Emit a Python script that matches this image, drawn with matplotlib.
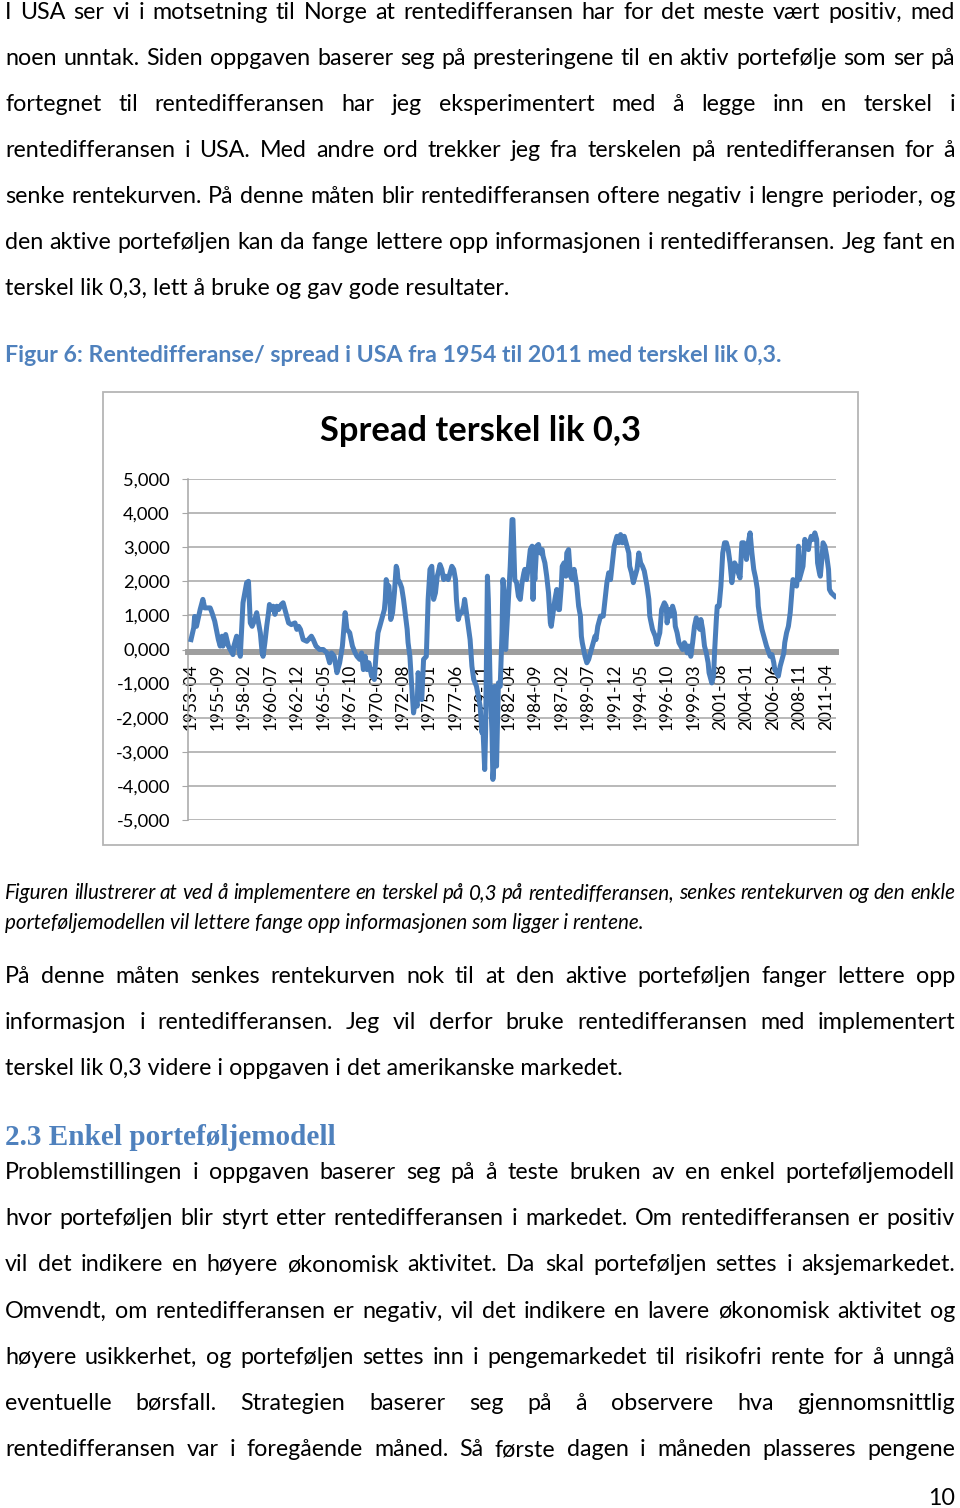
import matplotlib
matplotlib.use("Agg")
import matplotlib.pyplot as plt
from matplotlib.patches import Rectangle

# ---- data ----
dates = [
    "1953-04", "1953-07", "1953-08", "1953-10", "1954-02", "1954-05", "1954-07", "1955-01", "1955-03", "1955-06",
    "1955-10", "1955-12", "1956-02", "1956-03", "1956-06", "1956-09", "1956-11", "1957-02", "1957-03", "1957-06",
    "1957-08", "1957-10", "1958-01", "1958-05", "1958-07", "1958-09", "1958-11", "1959-02", "1959-04", "1959-06",
    "1959-08", "1959-10", "1959-11", "1960-01", "1960-03", "1960-05", "1960-06", "1960-08", "1960-10", "1960-12",
    "1961-02", "1961-04", "1961-07", "1961-09", "1961-11", "1962-03", "1962-06", "1962-10", "1962-12", "1963-02",
    "1963-04", "1963-07", "1963-11", "1964-04", "1964-06", "1964-09", "1965-01", "1965-05", "1965-09", "1965-12",
    "1966-02", "1966-05", "1966-08", "1966-11", "1967-02", "1967-05", "1967-07", "1967-10", "1968-01", "1968-04",
    "1968-06", "1968-09", "1968-11", "1969-01", "1969-03", "1969-05", "1969-07", "1969-10", "1969-11", "1970-01",
    "1970-03", "1970-05", "1970-07", "1970-10", "1970-12", "1971-01", "1971-02", "1971-03", "1971-05", "1971-06",
    "1971-07", "1971-09", "1971-11", "1972-01", "1972-02", "1972-03", "1972-05", "1972-07", "1972-09", "1973-01",
    "1973-02", "1973-04", "1973-06", "1973-08", "1973-10", "1973-12", "1974-01", "1974-03", "1974-05", "1974-07",
    "1974-10", "1974-12", "1975-02", "1975-04", "1975-06", "1975-08", "1975-10", "1975-11", "1976-01", "1976-03",
    "1976-05", "1976-07", "1976-10", "1977-02", "1977-04", "1977-06", "1977-07", "1977-09", "1977-11", "1978-01",
    "1978-03", "1978-04", "1978-06", "1978-08", "1978-10", "1978-12", "1979-02", "1979-05", "1979-09", "1979-11",
    "1979-12", "1980-02", "1980-03", "1980-05", "1980-06", "1980-08", "1980-10", "1980-11", "1980-12", "1981-01",
    "1981-03", "1981-05", "1981-07", "1981-09", "1981-10", "1981-12", "1982-01", "1982-03", "1982-04", "1982-06",
    "1982-08", "1982-09", "1982-11", "1983-01", "1983-03", "1983-05", "1983-07", "1983-09", "1983-10", "1983-12",
    "1984-02", "1984-04", "1984-06", "1984-07", "1984-08", "1984-09", "1984-11", "1985-01", "1985-03", "1985-05",
    "1985-06", "1985-08", "1985-10", "1985-12", "1986-02", "1986-03", "1986-05", "1986-07", "1986-09", "1986-11",
    "1986-12", "1987-02", "1987-03", "1987-05", "1987-07", "1987-08", "1987-10", "1987-12", "1988-02", "1988-04",
    "1988-07", "1988-09", "1988-11", "1988-12", "1989-01", "1989-04", "1989-06", "1989-08", "1989-10", "1989-12",
    "1990-03", "1990-04", "1990-06", "1990-09", "1990-12", "1991-02", "1991-04", "1991-06", "1991-08", "1991-10",
    "1991-12", "1992-03", "1992-05", "1992-07", "1992-09", "1992-11", "1993-01", "1993-04", "1993-05", "1993-07",
    "1993-09", "1993-11", "1994-01", "1994-03", "1994-05", "1994-07", "1994-09", "1994-12", "1995-02", "1995-03",
    "1995-06", "1995-09", "1995-11", "1995-12", "1996-02", "1996-04", "1996-07", "1996-09", "1996-10", "1996-12",
    "1997-02", "1997-04", "1997-06", "1997-07", "1997-09", "1997-11", "1998-01", "1998-03", "1998-05", "1998-07",
    "1998-08", "1998-10", "1998-12", "1999-02", "1999-04", "1999-06", "1999-08", "1999-10", "1999-11", "2000-01",
    "2000-03", "2000-05", "2000-07", "2000-08", "2000-11", "2001-01", "2001-02", "2001-04", "2001-05", "2001-07",
    "2001-09", "2001-11", "2002-01", "2002-03", "2002-05", "2002-07", "2002-09", "2002-11", "2002-12", "2003-02",
    "2003-04", "2003-06", "2003-08", "2003-10", "2003-12", "2004-01", "2004-03", "2004-05", "2004-07", "2004-09",
    "2004-11", "2005-01", "2005-02", "2005-04", "2005-06", "2005-08", "2005-10", "2005-11", "2006-01", "2006-03",
    "2006-05", "2006-07", "2006-08", "2006-10", "2006-12", "2007-02", "2007-04", "2007-06", "2007-07", "2007-09",
    "2007-11", "2008-01", "2008-03", "2008-04", "2008-06", "2008-08", "2008-09", "2008-10", "2008-11", "2009-01",
    "2009-03", "2009-05", "2009-07", "2009-09", "2009-10", "2009-12", "2010-02", "2010-04", "2010-06", "2010-07",
    "2010-09", "2010-10", "2010-12", "2011-01", "2011-03", "2011-05", "2011-07", "2011-08", "2011-10", "2011-12", "2012-02",
]
spread = [
    0.29, 0.64, 0.97, 0.68, 1.17, 1.47, 1.22, 1.22, 1.08, 0.83,
    0.29, 0.10, 0.39, 0.10, 0.44, 0.10, 0.00, -0.15, 0.10, 0.39,
    0.10, -0.20, 1.37, 1.96, 2.00, 0.78, 0.68, 0.88, 1.08, 0.78,
    0.49, -0.10, -0.20, 0.20, 0.68, 1.08, 1.32, 1.17, 1.27, 1.03,
    1.27, 1.17, 1.32, 1.37, 1.17, 0.78, 0.73, 0.78, 0.59, 0.68,
    0.59, 0.29, 0.24, 0.39, 0.29, 0.10, 0.00, 0.00, -0.10, -0.39,
    -0.10, -0.20, -0.68, -0.39, 0.10, 1.08, 0.59, 0.49, 0.10, -0.10,
    -0.20, -0.29, -0.10, -0.59, -0.20, -0.59, -0.39, -0.78, -0.59, -0.88,
    -0.10, 0.49, 0.68, 0.98, 1.17, 1.47, 2.05, 1.90, 1.86, 1.47,
    0.88, 1.08, 1.66, 2.44, 2.35, 2.05, 1.96, 1.81, 1.47, 0.59,
    0.20, -0.20, -1.08, -1.86, -1.47, -1.66, -0.68, -1.08, -1.47, -0.29,
    -0.20, 1.47, 2.35, 2.44, 1.47, 1.66, 2.15, 2.25, 2.49, 2.35,
    2.05, 2.15, 2.05, 2.44, 2.35, 2.05, 1.47, 0.88, 1.08, 1.08,
    1.27, 1.47, 1.08, 0.68, 0.29, -0.49, -0.88, -1.08, -1.66, -2.44,
    -2.25, -3.52, -2.44, 2.15, 1.47, -1.08, -2.44, -3.81, -3.42, -1.08,
    -3.42, -0.98, -1.08, 0.49, 2.05, 1.47, 0.00, 0.98, 1.47, 2.44,
    3.81, 3.81, 2.05, 1.96, 1.56, 1.47, 1.96, 2.25, 2.35, 2.05,
    2.44, 2.93, 3.03, 1.47, 2.44, 2.05, 3.03, 3.08, 2.83, 2.93,
    2.74, 2.54, 2.15, 1.66, 0.78, 0.68, 1.08, 1.47, 1.76, 1.17,
    1.17, 1.86, 2.44, 2.54, 2.15, 2.83, 2.93, 2.15, 2.05, 2.35,
    1.86, 1.27, 0.98, 0.39, 0.20, -0.20, -0.39, -0.29, -0.10, 0.10,
    0.39, 0.29, 0.68, 0.98, 0.98, 1.47, 1.96, 2.25, 2.05, 2.54,
    3.03, 3.32, 3.13, 3.37, 3.13, 3.32, 3.13, 2.83, 2.44, 2.25,
    1.96, 2.15, 2.35, 2.83, 2.54, 2.44, 2.30, 1.86, 1.47, 0.98,
    0.59, 0.39, 0.15, 0.29, 0.49, 1.17, 1.37, 1.27, 0.78, 1.17,
    0.98, 1.27, 1.08, 0.68, 0.49, 0.20, 0.10, 0.00, 0.20, 0.10,
    -0.10, 0.10, -0.20, 0.20, 0.68, 0.93, 0.68, 0.59, 0.88, 0.59,
    0.10, -0.10, -0.39, -0.68, -0.98, -0.78, -0.10, 0.88, 1.27, 1.27,
    1.86, 2.83, 3.13, 3.13, 2.93, 2.54, 1.96, 2.35, 2.54, 2.44,
    2.25, 2.10, 3.13, 3.13, 2.83, 2.64, 3.13, 3.42, 2.83, 2.35,
    2.10, 1.76, 1.27, 0.88, 0.59, 0.39, 0.20, 0.10, -0.05, -0.20,
    -0.15, -0.39, -0.59, -0.68, -0.78, -0.49, -0.29, -0.10, 0.20, 0.49,
    0.68, 1.08, 1.76, 2.05, 2.00, 1.86, 2.15, 3.03, 2.05, 2.25,
    2.44, 3.23, 3.03, 2.93, 3.13, 3.32, 3.23, 3.42, 3.23, 2.54,
    2.25, 2.15, 2.74, 3.13, 3.03, 2.74, 2.35, 1.76, 1.66, 1.61, 1.56,
]
assert len(dates) == len(spread)

xlabels = ["1953-04", "1955-09", "1958-02", "1960-07", "1962-12", "1965-05", "1967-10",
           "1970-03", "1972-08", "1975-01", "1977-06", "1979-11", "1982-04", "1984-09",
           "1987-02", "1989-07", "1991-12", "1994-05", "1996-10", "1999-03", "2001-08",
           "2004-01", "2006-06", "2008-11", "2011-04"]
yvals = [5, 4, 3, 2, 1, 0, -1, -2, -3, -4, -5]
ylabels = ["5,000", "4,000", "3,000", "2,000", "1,000", "0,000",
           "-1,000", "-2,000", "-3,000", "-4,000", "-5,000"]
chart_title = "Spread terskel lik 0,3"

para1 = [
    "I USA ser vi i motsetning til Norge at rentedifferansen har for det meste vært positiv, med",
    "noen unntak. Siden oppgaven baserer seg på presteringene til en aktiv portefølje som ser på",
    "fortegnet til rentedifferansen har jeg eksperimentert med å legge inn en terskel i",
    "rentedifferansen i USA. Med andre ord trekker jeg fra terskelen på rentedifferansen for å",
    "senke rentekurven. På denne måten blir rentedifferansen oftere negativ i lengre perioder, og",
    "den aktive porteføljen kan da fange lettere opp informasjonen i rentedifferansen. Jeg fant en",
    "terskel lik 0,3, lett å bruke og gav gode resultater.",
]
caption = "Figur 6: Rentedifferanse/ spread i USA fra 1954 til 2011 med terskel lik 0,3."
note = [
    "Figuren illustrerer at ved å implementere en terskel på 0,3 på rentedifferansen, senkes rentekurven og den enkle",
    "porteføljemodellen vil lettere fange opp informasjonen som ligger i rentene.",
]
para2 = [
    "På denne måten senkes rentekurven nok til at den aktive porteføljen fanger lettere opp",
    "informasjon i rentedifferansen. Jeg vil derfor bruke rentedifferansen med implementert",
    "terskel lik 0,3 videre i oppgaven i det amerikanske markedet.",
]
heading = "2.3 Enkel porteføljemodell"
para3 = [
    "Problemstillingen i oppgaven baserer seg på å teste bruken av en enkel porteføljemodell",
    "hvor porteføljen blir styrt etter rentedifferansen i markedet. Om rentedifferansen er positiv",
    "vil det indikere en høyere økonomisk aktivitet. Da skal porteføljen settes i aksjemarkedet.",
    "Omvendt, om rentedifferansen er negativ, vil det indikere en lavere økonomisk aktivitet og",
    "høyere usikkerhet, og porteføljen settes inn i pengemarkedet til risikofri rente for å unngå",
    "eventuelle børsfall. Strategien baserer seg på å observere hva gjennomsnittlig",
    "rentedifferansen var i foregående måned. Så første dagen i måneden plasseres pengene",
]
page_no = "10"

# ---- page ----
W, H = 960, 1508
fig = plt.figure(figsize=(W / 100, H / 100), dpi=100)
renderer = fig.canvas.get_renderer()
BODY = "Lato"
BLUE = "#4F81BD"


def fy(y):
    return 1 - y / H


def fit_size(text, width, size0=14, **kw):
    t = fig.text(0, 0, text, fontsize=size0, **kw)
    w = t.get_window_extent(renderer).width
    t.remove()
    return size0 * width / w


def put_line(text, y, size, justify=True, x0=5, x1=955, **kw):
    if not justify:
        fig.text(x0 / W, fy(y), text, fontsize=size, va="baseline", **kw)
        return
    words = text.split()
    objs = [fig.text(0, fy(y), w, fontsize=size, va="baseline", **kw) for w in words]
    widths = [o.get_window_extent(renderer).width for o in objs]
    gap = (x1 - x0 - sum(widths)) / (len(words) - 1)
    x = x0
    for o, w in zip(objs, widths):
        o.set_x(x / W)
        x += w + gap


body_size = fit_size(para1[-1], 505, family=BODY)
for i, line in enumerate(para1):
    put_line(line, 19 + 46 * i, body_size, justify=i < len(para1) - 1, family=BODY)

cap_size = fit_size(caption, 778, family=BODY, weight="bold")
put_line(caption, 362, cap_size, justify=False, family=BODY, weight="bold", color=BLUE)

note_size = fit_size(note[1], 641, family=BODY, style="italic")
put_line(note[0], 899, note_size, family=BODY, style="italic")
put_line(note[1], 929, note_size, justify=False, family=BODY, style="italic")

for i, line in enumerate(para2):
    put_line(line, 983 + 46 * i, body_size, justify=i < len(para2) - 1, family=BODY)

head_size = fit_size(heading, 332, family="Liberation Serif", weight="bold")
put_line(heading, 1145, head_size, justify=False, family="Liberation Serif",
         weight="bold", color=BLUE)

for i, line in enumerate(para3):
    put_line(line, 1179 + 46.2 * i, body_size, family=BODY)

fig.text(955 / W, fy(1505), page_no, fontsize=body_size, family=BODY, ha="right", va="baseline")

# ---- chart ----
fig.patches.append(Rectangle((103 / W, fy(845)), 755 / W, 453 / H, transform=fig.transFigure,
                             fill=False, edgecolor="#B5B5B5", lw=1.3))

title_size = fit_size(chart_title, 323, family=BODY, weight="bold")
fig.text(480 / W, fy(431), chart_title, fontsize=title_size, family=BODY, weight="bold",
         ha="center", va="center")


def month_index(d):
    return (int(d[:4]) - 1953) * 12 + int(d[5:7]) - 4


idx = [month_index(d) for d in dates]
tick_pos = [month_index(d) for d in xlabels]

ax = fig.add_axes([188 / W, fy(820), 648 / W, 341 / H])
ax.plot(idx, spread, color="#4A7EBB", lw=3.6, zorder=3, solid_joinstyle="round")
ax.set_xlim(-3.3, 707.2)
ax.set_ylim(-5, 5)

ax.set_yticks(yvals)
ax.set_yticklabels(ylabels)
ax.grid(axis="y", color="#A6A6A6", lw=1.1)
ax.set_axisbelow(True)

for s in ["top", "right"]:
    ax.spines[s].set_visible(False)
ax.spines["left"].set_color("#A6A6A6")
ax.spines["left"].set_linewidth(1.1)
ax.spines["bottom"].set_position(("data", -0.08))
ax.spines["bottom"].set_color("#9E9E9E")
ax.spines["bottom"].set_linewidth(4.3)

ytick_size = fit_size("-5,000", 54, family=BODY)
xtick_size = fit_size("1953-04", 67, family=BODY)
ax.tick_params(axis="y", length=4, color="#A6A6A6", pad=9)
for lab in ax.get_yticklabels():
    lab.set_fontsize(ytick_size)
    lab.set_family(BODY)

ax.set_xticks(tick_pos)
ax.set_xticklabels(xlabels, rotation=90, fontsize=xtick_size, family=BODY)
ax.tick_params(axis="x", length=0, pad=8)

fig.savefig("out.png", dpi=100)
